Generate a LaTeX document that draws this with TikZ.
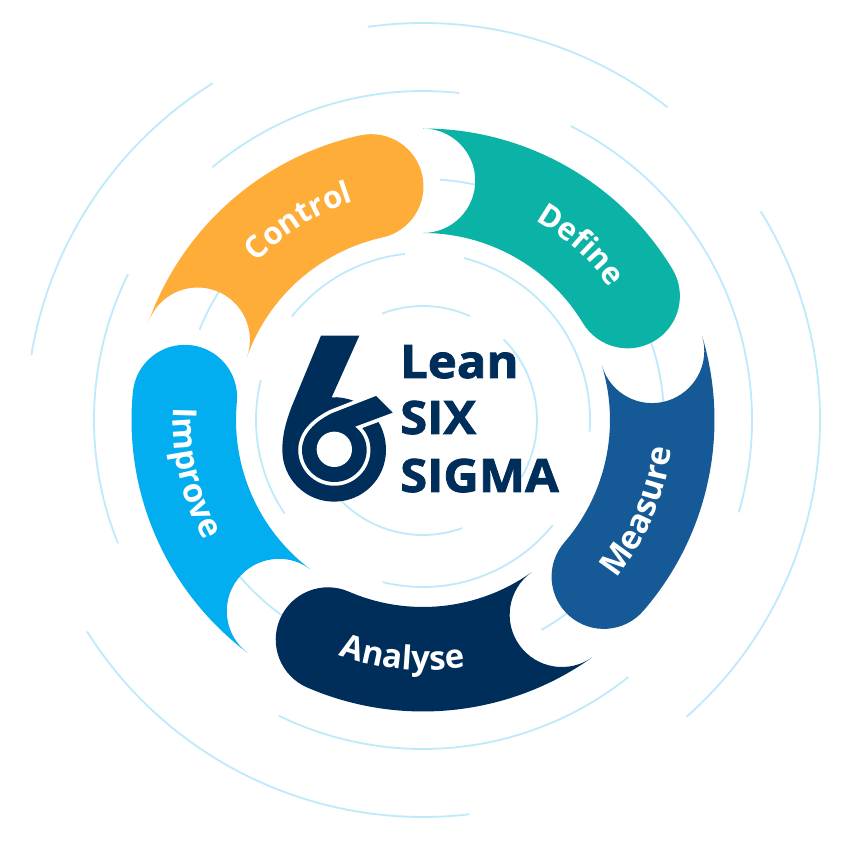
\documentclass[tikz,border=0pt]{standalone}
\usepackage{fontspec}
\setmainfont{Open Sans}
\newfontfamily\heavy{Open Sans}[BoldFeatures={FakeBold=1.8,FakeStretch=1.065}]
\usetikzlibrary{decorations.text}
\definecolor{ringline}{HTML}{BEEAFB}
\definecolor{cdefine}{HTML}{0BB3A6}
\definecolor{cmeasure}{HTML}{155A96}
\definecolor{canalyse}{HTML}{002E5B}
\definecolor{cimprove}{HTML}{02AEEF}
\definecolor{ccontrol}{HTML}{FEAD38}
\newcommand{\ringarc}[3]{\draw[ringarc] (#2:#1) arc[start angle=#2, end angle=#3, radius=#1];}
\newcommand{\petal}[3]{\fill[#1] (#3:291.5) arc[start angle=#3, end angle=#2, radius=291.5]
  arc[start angle=#2, end angle=#2-180, radius=52.25]
  arc[start angle=#2, end angle=#3, radius=187]
  arc[start angle=#3+180, end angle=#3+360, radius=52.25] -- cycle;}
\newcommand{\cwlabel}[4]{\path[decorate,decoration={text along path,text align=center,text={|\fontsize{#4}{#4}\selectfont\bfseries\color{white}|#1}}]
  (#2:229) arc[start angle=#2, end angle=#3, radius=229];}
\newcommand{\ccwlabel}[4]{\path[decorate,decoration={text along path,text align=center,text={|\fontsize{#4}{#4}\selectfont\bfseries\color{white}|#1}}]
  (#2:250) arc[start angle=#2, end angle=#3, radius=250];}
\tikzset{ringarc/.style={draw=ringline,line width=1.8pt},
 x=1pt,y=1pt}
\begin{document}
\begin{tikzpicture}[x=1pt,y=1pt]
\useasboundingbox (-423,-430) rectangle (431,420);
\fill[white] (-423,-430) rectangle (431,420);
% background rings
\ringarc{397}{98}{52}
\ringarc{397}{31.7}{-48.4}
\ringarc{397}{212.2}{276.7}
\ringarc{397}{170.6}{122}
\ringarc{329}{129.8}{83.7}
\ringarc{329}{63.3}{-16.3}
\ringarc{329}{-51.4}{-116}
\ringarc{329}{202}{153.7}
\ringarc{241}{158}{145}
\ringarc{241}{86}{70}
\ringarc{241}{30}{0}
\ringarc{241}{-60.6}{-45}
\ringarc{241}{215}{240}
\ringarc{167}{141.8}{96.2}
\ringarc{167}{75.8}{-4}
\ringarc{167}{-39}{-104}
\ringarc{167}{214}{166.2}
\ringarc{114}{111}{65.7}
\ringarc{114}{45}{-30}
\ringarc{115}{-70}{-135}
% petals
\petal{cdefine}{31.2}{90}
\petal{ccontrol}{102.5}{160.4}
\petal{cimprove}{174.5}{233}
\petal{canalyse}{246.6}{305.5}
\petal{cmeasure}{319.1}{376.8}
% labels
\cwlabel{Control}{152}{92}{31}
\cwlabel{Define}{78}{18}{31}
\ccwlabel{Measure}{307}{367}{33}
\ccwlabel{Analyse}{235}{295}{33}
\ccwlabel{Improve}{163}{223}{33}
% logo
\begin{scope}[shift={(-183,110)},x=0.33333pt,y=-0.33333pt]
\fill[canalyse] (243,77) -- (358,77) -- (275,262) .. controls (295,260) and (320,265) .. (340,272)
  -- (345,350) -- (415,335) .. controls (430,360) and (438,390) .. (438,420)
  .. controls (438,505) and (370,575) .. (282,575)
  .. controls (195,575) and (127,505) .. (127,420)
  .. controls (127,370) and (140,330) .. (155,290) -- cycle;
\draw[white,line width=7.5pt,fill=canalyse,miter limit=10] (408,258) -- (458,308) -- (345,350)
  .. controls (368,368) and (380,392) .. (380,420)
  .. controls (380,473) and (336,516) .. (283,516)
  .. controls (230,516) and (186,473) .. (186,420)
  .. controls (186,372) and (225,335) .. (275,310) -- cycle;
\fill[canalyse] (408,258) -- (458,308) -- (345,350)
  .. controls (368,368) and (380,392) .. (380,420)
  .. controls (380,473) and (336,516) .. (283,516)
  .. controls (230,516) and (186,473) .. (186,420)
  .. controls (186,372) and (225,335) .. (275,310) -- cycle;
\fill[white] (283,418) circle[radius=53];
\end{scope}
% title
\node[anchor=base west,inner sep=0pt,text=canalyse,font=\fontsize{46}{46}\selectfont\heavy\bfseries] (lean) at (-23,42) {Lean};
\node[anchor=base west,inner sep=0pt,text=canalyse,font=\fontsize{46}{46}\selectfont\heavy\bfseries] (six) at (-23,-14) {SIX};
\node[anchor=base west,inner sep=0pt,text=canalyse,font=\fontsize{46}{46}\selectfont\heavy\bfseries] (sigma) at (-23,-72) {SIGMA};
\end{tikzpicture}
\end{document}
